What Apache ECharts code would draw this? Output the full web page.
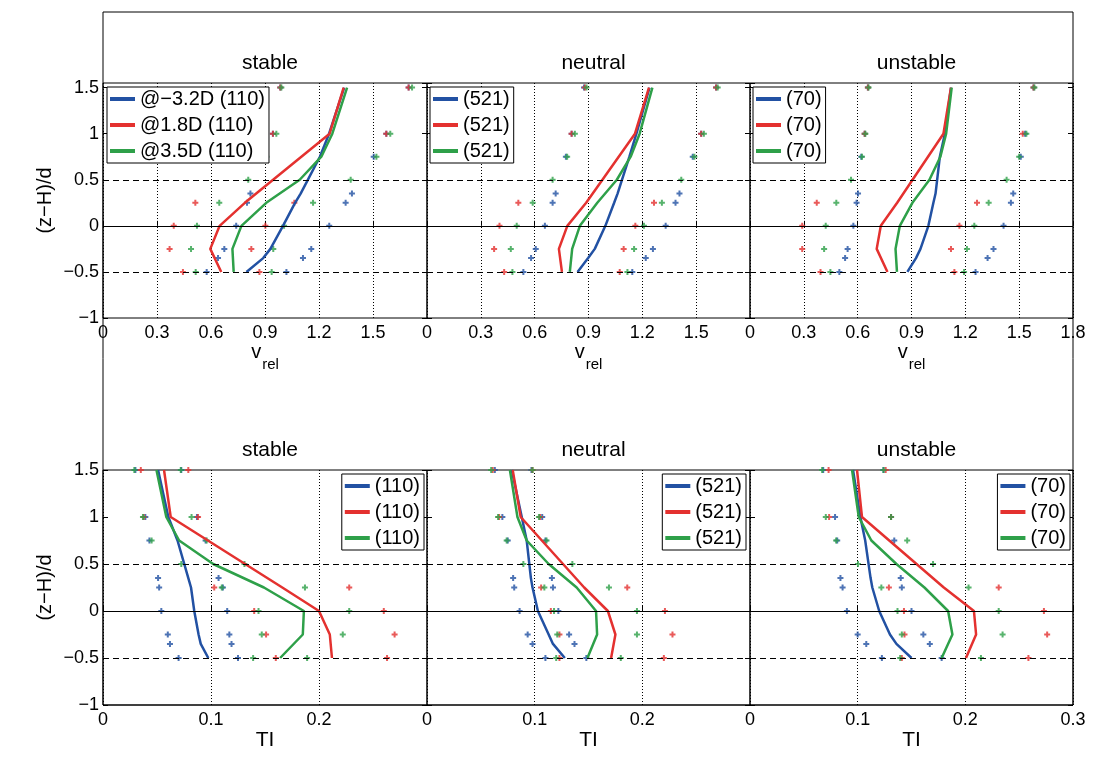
<!DOCTYPE html>
<html><head><meta charset="utf-8">
<script src="https://cdn.jsdelivr.net/npm/echarts@6/dist/echarts.min.js"></script>
<style>html,body{margin:0;padding:0;background:#fff}#c{width:1118px;height:758px}</style>
</head><body><div id="c"></div>
<script>
// ---- heights of measurement points ((z-H)/d) ----
const zBlue = [1.5, 1, 0.75, 0.35, 0.25, 0, -0.25, -0.35, -0.5];
const zRed = [1.5, 1, 0.25, 0, -0.25, -0.5];
const zGreen = [1.5, 1, 0.75, 0.5, 0.25, 0, -0.25, -0.5];
const refLines = [0.5, 0, -0.5];
const panelTitles = ['stable', 'neutral', 'unstable', 'stable', 'neutral', 'unstable'];
const legendLabels = [
  ['@\u22123.2D (110)', '@1.8D (110)', '@3.5D (110)'],
  ['(521)', '(521)', '(521)'],
  ['(70)', '(70)', '(70)'],
  ['(110)', '(110)', '(110)'],
  ['(521)', '(521)', '(521)'],
  ['(70)', '(70)', '(70)']
];
const vAxisMax = 1.8, vAxisStep = 0.3;
const tiAxisMax = 0.3, tiAxisStep = 0.1;
const yMin = -1, yStep = 0.5;

// ---- v_rel, stable ----
const vStableBlue = [1.34, 1.256, 1.205, 1.098, 1.067, 1.0, 0.93, 0.89, 0.797];
const vStableBlueLo = [0.985, 0.944, 0.906, 0.819, 0.80, 0.74, 0.674, 0.639, 0.576];
const vStableBlueHi = [1.698, 1.574, 1.504, 1.383, 1.348, 1.257, 1.157, 1.111, 1.019];
const vStableRed = [1.337, 1.259, 0.788, 0.648, 0.596, 0.657];
const vStableRedLo = [0.985, 0.944, 0.513, 0.393, 0.370, 0.444];
const vStableRedHi = [1.698, 1.574, 1.063, 0.902, 0.824, 0.869];
const vStableGreen = [1.356, 1.274, 1.213, 1.093, 0.907, 0.769, 0.719, 0.726];
const vStableGreenLo = [0.991, 0.963, 0.907, 0.807, 0.646, 0.522, 0.489, 0.515];
const vStableGreenHi = [1.717, 1.596, 1.519, 1.376, 1.167, 1.006, 0.946, 0.937];
// ---- v_rel, neutral ----
const vNeutralBlue = [1.24, 1.167, 1.128, 1.062, 1.043, 0.994, 0.935, 0.898, 0.839];
const vNeutralBlueLo = [0.875, 0.806, 0.774, 0.717, 0.70, 0.657, 0.606, 0.58, 0.537];
const vNeutralBlueHi = [1.611, 1.528, 1.481, 1.407, 1.385, 1.33, 1.259, 1.219, 1.144];
const vNeutralRed = [1.237, 1.159, 0.887, 0.782, 0.735, 0.752];
const vNeutralRedLo = [0.88, 0.806, 0.509, 0.404, 0.374, 0.43];
const vNeutralRedHi = [1.611, 1.528, 1.265, 1.161, 1.096, 1.074];
const vNeutralGreen = [1.256, 1.185, 1.135, 1.058, 0.949, 0.852, 0.809, 0.796];
const vNeutralGreenLo = [0.889, 0.824, 0.781, 0.70, 0.589, 0.50, 0.467, 0.476];
const vNeutralGreenHi = [1.62, 1.543, 1.49, 1.417, 1.309, 1.209, 1.154, 1.117];
// ---- v_rel, unstable ----
const vUnstableBlue = [1.12, 1.086, 1.058, 1.034, 1.022, 0.994, 0.95, 0.925, 0.877];
const vUnstableBlueLo = [0.657, 0.639, 0.62, 0.602, 0.594, 0.576, 0.544, 0.53, 0.498];
const vUnstableBlueHi = [1.58, 1.533, 1.509, 1.467, 1.454, 1.413, 1.357, 1.324, 1.257];
const vUnstableRed = [1.12, 1.078, 0.82, 0.729, 0.706, 0.766];
const vUnstableRedLo = [0.657, 0.639, 0.372, 0.291, 0.291, 0.393];
const vUnstableRedHi = [1.58, 1.52, 1.265, 1.167, 1.12, 1.139];
const vUnstableGreen = [1.124, 1.093, 1.061, 1.0, 0.905, 0.835, 0.811, 0.819];
const vUnstableGreenLo = [0.661, 0.643, 0.624, 0.563, 0.481, 0.422, 0.413, 0.448];
const vUnstableGreenHi = [1.585, 1.54, 1.5, 1.43, 1.33, 1.25, 1.209, 1.193];
// ---- TI, stable ----
const tiStableBlue = [0.051, 0.0605, 0.069, 0.079, 0.0815, 0.0845, 0.0885, 0.0905, 0.0975];
const tiStableBlueLo = [0.030, 0.0392, 0.043, 0.051, 0.052, 0.054, 0.060, 0.062, 0.070];
const tiStableBlueHi = [0.0725, 0.087, 0.095, 0.107, 0.111, 0.115, 0.117, 0.119, 0.125];
const tiStableRed = [0.0565, 0.0627, 0.166, 0.2, 0.21, 0.212];
const tiStableRedLo = [0.035, 0.0377, 0.103, 0.140, 0.151, 0.160];
const tiStableRedHi = [0.079, 0.088, 0.228, 0.260, 0.270, 0.263];
const tiStableGreen = [0.0495, 0.0586, 0.0705, 0.102, 0.149, 0.186, 0.185, 0.164];
const tiStableGreenLo = [0.029, 0.037, 0.045, 0.0725, 0.110, 0.144, 0.147, 0.139];
const tiStableGreenHi = [0.072, 0.082, 0.096, 0.131, 0.187, 0.228, 0.222, 0.189];
// ---- TI, neutral ----
const tiNeutralBlue = [0.0787, 0.088, 0.0926, 0.0965, 0.098, 0.103, 0.113, 0.117, 0.128];
const tiNeutralBlueLo = [0.063, 0.070, 0.075, 0.080, 0.081, 0.086, 0.0935, 0.098, 0.110];
const tiNeutralBlueHi = [0.097, 0.107, 0.110, 0.116, 0.117, 0.122, 0.132, 0.137, 0.148];
const tiNeutralRed = [0.0796, 0.087, 0.146, 0.168, 0.175, 0.171];
const tiNeutralRedLo = [0.061, 0.067, 0.106, 0.115, 0.123, 0.123];
const tiNeutralRedHi = [0.098, 0.105, 0.186, 0.221, 0.228, 0.220];
const tiNeutralGreen = [0.077, 0.084, 0.0926, 0.113, 0.139, 0.157, 0.158, 0.149];
const tiNeutralGreenLo = [0.0596, 0.066, 0.074, 0.0895, 0.109, 0.118, 0.121, 0.120];
const tiNeutralGreenHi = [0.098, 0.104, 0.111, 0.135, 0.169, 0.195, 0.195, 0.180];
// ---- TI, unstable ----
const tiUnstableBlue = [0.0957, 0.1025, 0.107, 0.112, 0.1136, 0.12, 0.130, 0.136, 0.150];
const tiUnstableBlueLo = [0.068, 0.079, 0.081, 0.084, 0.086, 0.090, 0.100, 0.108, 0.1225];
const tiUnstableBlueHi = [0.124, 0.131, 0.134, 0.140, 0.141, 0.150, 0.161, 0.167, 0.178];
const tiUnstableRed = [0.0994, 0.104, 0.18, 0.208, 0.21, 0.2006];
const tiUnstableRedLo = [0.073, 0.0735, 0.129, 0.143, 0.1435, 0.141];
const tiUnstableRedHi = [0.126, 0.131, 0.231, 0.273, 0.276, 0.2586];
const tiUnstableGreen = [0.0948, 0.101, 0.1127, 0.136, 0.162, 0.184, 0.188, 0.178];
const tiUnstableGreenLo = [0.067, 0.0704, 0.080, 0.1003, 0.122, 0.137, 0.141, 0.1395];
const tiUnstableGreenHi = [0.124, 0.131, 0.146, 0.170, 0.203, 0.231, 0.2346, 0.2145];

// ---- assembly ----
const FONT = "'Liberation Sans', Arial, Helvetica, sans-serif";
const COLORS = ['#2251a3', '#e4312f', '#2ea049'];
const Z = [zBlue, zRed, zGreen];
const panels = [
  [[vStableBlue, vStableBlueLo, vStableBlueHi], [vStableRed, vStableRedLo, vStableRedHi], [vStableGreen, vStableGreenLo, vStableGreenHi]],
  [[vNeutralBlue, vNeutralBlueLo, vNeutralBlueHi], [vNeutralRed, vNeutralRedLo, vNeutralRedHi], [vNeutralGreen, vNeutralGreenLo, vNeutralGreenHi]],
  [[vUnstableBlue, vUnstableBlueLo, vUnstableBlueHi], [vUnstableRed, vUnstableRedLo, vUnstableRedHi], [vUnstableGreen, vUnstableGreenLo, vUnstableGreenHi]],
  [[tiStableBlue, tiStableBlueLo, tiStableBlueHi], [tiStableRed, tiStableRedLo, tiStableRedHi], [tiStableGreen, tiStableGreenLo, tiStableGreenHi]],
  [[tiNeutralBlue, tiNeutralBlueLo, tiNeutralBlueHi], [tiNeutralRed, tiNeutralRedLo, tiNeutralRedHi], [tiNeutralGreen, tiNeutralGreenLo, tiNeutralGreenHi]],
  [[tiUnstableBlue, tiUnstableBlueLo, tiUnstableBlueHi], [tiUnstableRed, tiUnstableRedLo, tiUnstableRedHi], [tiUnstableGreen, tiUnstableGreenLo, tiUnstableGreenHi]]
];
const pair = (vals, z) => vals.map((v, i) => [v, z[i]]);
const PLUS = 'path://M1,0L2,0L2,1L3,1L3,2L2,2L2,3L1,3L1,2L0,2L0,1L1,1Z';
const minus = v => String(v).replace('-', '\u2212');

const colLeft = [103, 427, 750];
const colWidth = [324, 323, 323];
const rowTop = [83, 470];
const rowHeight = 235;

const grids = [], xAxes = [], yAxes = [], series = [], titles = [], legends = [];
const labelMap = {};
const legendLeft = [107, 430, 753];
const legendRight = [694, 372, 48];

for (let p = 0; p < 6; p++) {
  const row = p < 3 ? 0 : 1, col = p % 3;
  grids.push({left: colLeft[col], top: rowTop[row], width: colWidth[col], height: rowHeight,
    show: true, borderColor: '#000', borderWidth: 1, backgroundColor: 'transparent'});
  xAxes.push({
    type: 'value', gridIndex: p, min: 0,
    max: row === 0 ? vAxisMax : tiAxisMax, interval: row === 0 ? vAxisStep : tiAxisStep,
    axisLine: {show: false},
    axisTick: {inside: true, length: 5, lineStyle: {color: '#000'}},
    axisLabel: {fontSize: 18, color: '#000', fontFamily: FONT, margin: 6, showMaxLabel: col === 2, showMinLabel: true},
    splitLine: {show: true, lineStyle: {type: [1, 2], color: '#000', width: 1}},
    name: row === 0 ? '{v|v}{s|rel}' : 'TI', nameLocation: 'middle', nameGap: row === 0 ? 20 : 23,
    nameTextStyle: row === 0 ? {rich: {
      v: {fontSize: 20, fontFamily: FONT, color: '#000', verticalAlign: 'top', lineHeight: 20},
      s: {fontSize: 15, fontFamily: FONT, color: '#000', verticalAlign: 'top', lineHeight: 15, padding: [14, 0, 0, 1]}
    }} : {fontSize: 21, fontFamily: FONT, color: '#000'}
  });
  const yBase = {
    type: 'value', gridIndex: p, min: yMin, max: row === 0 ? 1.55 : 1.5, interval: yStep,
    axisLine: {show: false},
    axisTick: {inside: true, length: 5, lineStyle: {color: '#000'}},
    splitLine: {show: false}
  };
  yAxes.push(Object.assign({}, yBase, {
    position: 'left',
    axisLabel: {show: col === 0, fontSize: 18, color: '#000', fontFamily: FONT, margin: 4,
      showMaxLabel: row === 1, formatter: minus},
    name: col === 0 ? '(z\u2212H)/d' : '', nameLocation: 'middle', nameGap: 48, nameRotate: 90,
    nameTextStyle: {fontSize: 20, fontFamily: FONT, color: '#000'}
  }));
  titles.push({text: panelTitles[p], left: colLeft[col] + colWidth[col] / 2, top: row === 0 ? 48 : 435,
    textAlign: 'center', textStyle: {fontSize: 21, fontWeight: 'normal', color: '#000', fontFamily: FONT}});
  const names = [];
  for (let c = 0; c < 3; c++) {
    const [mean, lo, hi] = panels[p][c];
    const nm = 'p' + p + 'c' + c;
    names.push(nm);
    labelMap[nm] = legendLabels[p][c];
    const sc = {
      type: 'scatter', name: 's' + nm, xAxisIndex: p, yAxisIndex: p,
      data: pair(lo, Z[c]).concat(pair(hi, Z[c])),
      symbol: PLUS, symbolSize: 6, itemStyle: {color: COLORS[c]}, z: 2, silent: true
    };
    if (c === 0) {
      sc.markLine = {silent: true, symbol: ['none', 'none'], label: {show: false}, animation: false,
        lineStyle: {color: '#000', width: 1},
        data: refLines.map(v => ({yAxis: v, lineStyle: {color: '#000', width: 1, type: v === 0 ? 'solid' : [6, 4]}}))};
    }
    series.push(sc);
    series.push({
      type: 'line', name: nm, xAxisIndex: p, yAxisIndex: p,
      data: pair(mean, Z[c]), showSymbol: false, symbol: 'none',
      lineStyle: {color: COLORS[c], width: 2.5}, itemStyle: {color: COLORS[c]}, z: 3, silent: true
    });
  }
  const lg = {
    orient: 'vertical', top: row === 0 ? 87 : 474, data: names,
    formatter: n => labelMap[n], icon: 'rect', itemWidth: 25, itemHeight: 4, itemGap: 6,
    padding: [2, 4, 2, 3], borderColor: '#000', borderWidth: 1, backgroundColor: '#fff',
    selectedMode: false, textStyle: {fontSize: 20, color: '#000', fontFamily: FONT}
  };
  if (row === 0) lg.left = legendLeft[col]; else lg.right = legendRight[col];
  legends.push(lg);
}
// right-side y axes (tick marks only)
for (let p = 0; p < 6; p++) {
  const row = p < 3 ? 0 : 1;
  yAxes.push({
    type: 'value', gridIndex: p, position: 'right', min: yMin, max: row === 0 ? 1.55 : 1.5, interval: yStep,
    axisLine: {show: false}, axisLabel: {show: false},
    axisTick: {inside: true, length: 5, lineStyle: {color: '#000'}}, splitLine: {show: false}
  });
}

const chart = echarts.init(document.getElementById('c'), null, {renderer: 'canvas'});
chart.setOption({
  animation: false,
  backgroundColor: '#fff',
  title: titles,
  legend: legends,
  grid: grids,
  xAxis: xAxes,
  yAxis: yAxes,
  series: series,
  graphic: [{type: 'rect', shape: {x: 103, y: 12, width: 970, height: 693}, silent: true,
    style: {fill: 'none', stroke: '#000', lineWidth: 1}, z: 10}]
});
</script></body></html>
